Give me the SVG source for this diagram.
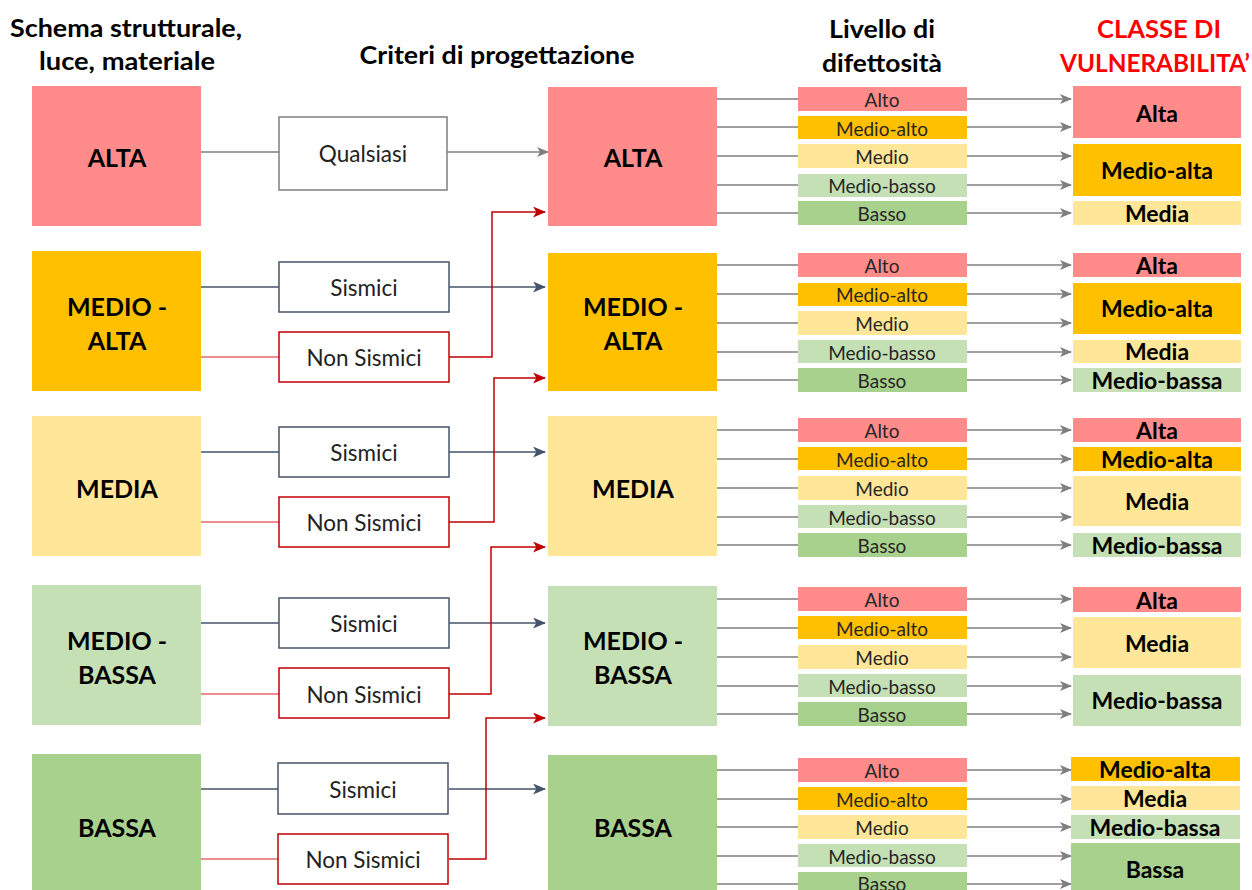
<svg xmlns="http://www.w3.org/2000/svg" width="1252" height="890" viewBox="0 0 1252 890">
<style>
text{font-family:Lato,"Liberation Sans",sans-serif;fill:#000;text-anchor:middle;dominant-baseline:central}
.h{font-size:24px;font-weight:bold}
.hr{font-size:24px;font-weight:bold;fill:#FF0000}
.big{font-size:25px;font-weight:bold}
.crit{font-size:22.5px;fill:#222}
.def{font-size:19px;fill:#262626}
.vul{font-size:23px;font-weight:bold}
.r{fill:#FF8B8B}.o{fill:#FFC000}.y{fill:#FFE699}.lg{fill:#C5E0B4}.g{fill:#A9D18E}
.cq{fill:#fff;stroke:#7F7F7F;stroke-width:1.5}
.cs{fill:#fff;stroke:#44546A;stroke-width:1.5}
.cn{fill:#fff;stroke:#C00000;stroke-width:1.5}
.lg1{fill:none;stroke:#7F7F7F;stroke-width:1.5}
.ls{fill:none;stroke:#44546A;stroke-width:1.5}
.ln{fill:none;stroke:#C00000;stroke-width:1.5}
.lnl{fill:none;stroke:#E86A6A;stroke-width:1.5}
</style>
<defs>
<marker id="ag" viewBox="0 0 12 10" refX="11" refY="5" markerWidth="12" markerHeight="10" markerUnits="userSpaceOnUse" orient="auto"><path d="M0,0 L12,5 L0,10 L3,5 z" fill="#7F7F7F"/></marker>
<marker id="as" viewBox="0 0 12 10" refX="11" refY="5" markerWidth="13" markerHeight="11" markerUnits="userSpaceOnUse" orient="auto"><path d="M0,0 L12,5 L0,10 L3,5 z" fill="#44546A"/></marker>
<marker id="an" viewBox="0 0 12 10" refX="11" refY="5" markerWidth="13" markerHeight="11" markerUnits="userSpaceOnUse" orient="auto"><path d="M0,0 L12,5 L0,10 L3,5 z" fill="#C00000"/></marker>
</defs>

<g id="headers">
<text class="h" x="126" y="27" textLength="232" lengthAdjust="spacingAndGlyphs">Schema strutturale,</text>
<text class="h" x="127" y="60" textLength="176" lengthAdjust="spacingAndGlyphs">luce, materiale</text>
<text class="h" x="497" y="54" textLength="275" lengthAdjust="spacingAndGlyphs">Criteri di progettazione</text>
<text class="h" x="882" y="28" textLength="106" lengthAdjust="spacingAndGlyphs">Livello di</text>
<text class="h" x="882" y="62" textLength="120" lengthAdjust="spacingAndGlyphs">difettosità</text>
<text class="hr" x="1159" y="28" textLength="124" lengthAdjust="spacingAndGlyphs">CLASSE DI</text>
<text class="hr" x="1155" y="62" textLength="190" lengthAdjust="spacingAndGlyphs">VULNERABILITA’</text>
</g>

<g id="connectors">
<path class="lg1" d="M201,152 H279"/>
<path class="lg1" d="M447,152 H548" marker-end="url(#ag)"/>
<path class="ls" d="M201,287 H279"/>
<path class="ls" d="M449,287 H545" marker-end="url(#as)"/>
<path class="lnl" d="M201,357 H279"/>
<path class="ln" d="M449,357 H492 V212 H545" marker-end="url(#an)"/>
<path class="ls" d="M201,452 H279"/>
<path class="ls" d="M449,452 H545" marker-end="url(#as)"/>
<path class="lnl" d="M201,522 H279"/>
<path class="ln" d="M449,522 H494 V378 H545" marker-end="url(#an)"/>
<path class="ls" d="M201,623 H279"/>
<path class="ls" d="M449,623 H545" marker-end="url(#as)"/>
<path class="lnl" d="M201,694 H279"/>
<path class="ln" d="M449,694 H491 V547 H545" marker-end="url(#an)"/>
<path class="ls" d="M201,789 H279"/>
<path class="ls" d="M449,789 H545" marker-end="url(#as)"/>
<path class="lnl" d="M201,859 H279"/>
<path class="ln" d="M449,859 H486 V718 H545" marker-end="url(#an)"/>
<path class="lg1" d="M717,99 H798 M717,127 H798 M717,156 H798 M717,185 H798 M717,213 H798"/>
<path class="lg1" d="M717,265 H798 M717,294 H798 M717,323 H798 M717,352 H798 M717,380 H798"/>
<path class="lg1" d="M717,430 H798 M717,459 H798 M717,488 H798 M717,517 H798 M717,545 H798"/>
<path class="lg1" d="M717,599 H798 M717,628 H798 M717,657 H798 M717,686 H798 M717,714 H798"/>
<path class="lg1" d="M717,770 H798 M717,799 H798 M717,827 H798 M717,856 H798 M717,884 H798"/>
<g marker-end="url(#ag)" class="lg1">
<path d="M967,99 H1071"/><path d="M967,127 H1071"/><path d="M967,156 H1071"/><path d="M967,185 H1071"/><path d="M967,213 H1071"/>
<path d="M967,265 H1071"/><path d="M967,294 H1071"/><path d="M967,323 H1071"/><path d="M967,352 H1071"/><path d="M967,380 H1071"/>
<path d="M967,430 H1071"/><path d="M967,459 H1071"/><path d="M967,488 H1071"/><path d="M967,517 H1071"/><path d="M967,545 H1071"/>
<path d="M967,599 H1071"/><path d="M967,628 H1071"/><path d="M967,657 H1071"/><path d="M967,686 H1071"/><path d="M967,714 H1071"/>
<path d="M967,770 H1071"/><path d="M967,799 H1071"/><path d="M967,827 H1071"/><path d="M967,856 H1071"/><path d="M967,884 H1071"/>
</g>
</g>

<g id="src-alta"><rect class="r" x="32" y="86" width="169" height="140"/><text class="big" x="117" y="157">ALTA</text></g>
<g id="src-medioalta"><rect class="o" x="32" y="251" width="169" height="140"/><text class="big" x="117" y="306">MEDIO -</text><text class="big" x="117" y="340">ALTA</text></g>
<g id="src-media"><rect class="y" x="32" y="416" width="169" height="140"/><text class="big" x="117" y="488">MEDIA</text></g>
<g id="src-mediobassa"><rect class="lg" x="32" y="585" width="169" height="140"/><text class="big" x="117" y="640">MEDIO -</text><text class="big" x="117" y="674">BASSA</text></g>
<g id="src-bassa"><rect class="g" x="32" y="754" width="169" height="140"/><text class="big" x="117" y="827">BASSA</text></g>

<g id="crit-qualsiasi"><rect class="cq" x="279" y="117" width="168" height="73"/><text class="crit" x="363" y="153">Qualsiasi</text></g>
<g id="crit-s2"><rect class="cs" x="279" y="262" width="170" height="50"/><text class="crit" x="364" y="287">Sismici</text></g>
<g id="crit-n2"><rect class="cn" x="279" y="332" width="170" height="50"/><text class="crit" x="364" y="357">Non Sismici</text></g>
<g id="crit-s3"><rect class="cs" x="279" y="427" width="170" height="50"/><text class="crit" x="364" y="452">Sismici</text></g>
<g id="crit-n3"><rect class="cn" x="279" y="497" width="170" height="50"/><text class="crit" x="364" y="522">Non Sismici</text></g>
<g id="crit-s4"><rect class="cs" x="279" y="598" width="170" height="50"/><text class="crit" x="364" y="623">Sismici</text></g>
<g id="crit-n4"><rect class="cn" x="279" y="668" width="170" height="50"/><text class="crit" x="364" y="694">Non Sismici</text></g>
<g id="crit-s5"><rect class="cs" x="278" y="763" width="170" height="51"/><text class="crit" x="363" y="789">Sismici</text></g>
<g id="crit-n5"><rect class="cn" x="278" y="834" width="170" height="50"/><text class="crit" x="363" y="859">Non Sismici</text></g>

<g id="lvl-alta"><rect class="r" x="548" y="87" width="169" height="139"/><text class="big" x="633" y="157">ALTA</text></g>
<g id="lvl-medioalta"><rect class="o" x="548" y="253" width="169" height="138"/><text class="big" x="633" y="306">MEDIO -</text><text class="big" x="633" y="340">ALTA</text></g>
<g id="lvl-media"><rect class="y" x="548" y="416" width="169" height="140"/><text class="big" x="633" y="488">MEDIA</text></g>
<g id="lvl-mediobassa"><rect class="lg" x="548" y="586" width="169" height="140"/><text class="big" x="633" y="640">MEDIO -</text><text class="big" x="633" y="674">BASSA</text></g>
<g id="lvl-bassa"><rect class="g" x="548" y="755" width="169" height="140"/><text class="big" x="633" y="827">BASSA</text></g>

<g id="def-1">
<rect class="r" x="798" y="87" width="169" height="24"/><text class="def" x="882" y="99">Alto</text>
<rect class="o" x="798" y="116" width="169" height="23"/><text class="def" x="882" y="128">Medio-alto</text>
<rect class="y" x="798" y="144" width="169" height="24"/><text class="def" x="882" y="156">Medio</text>
<rect class="lg" x="798" y="174" width="169" height="23"/><text class="def" x="882" y="185">Medio-basso</text>
<rect class="g" x="798" y="201" width="169" height="24"/><text class="def" x="882" y="213">Basso</text>
</g>
<g id="def-2">
<rect class="r" x="798" y="253" width="169" height="24"/><text class="def" x="882" y="265">Alto</text>
<rect class="o" x="798" y="283" width="169" height="23"/><text class="def" x="882" y="294">Medio-alto</text>
<rect class="y" x="798" y="311" width="169" height="24"/><text class="def" x="882" y="323">Medio</text>
<rect class="lg" x="798" y="340" width="169" height="23"/><text class="def" x="882" y="352">Medio-basso</text>
<rect class="g" x="798" y="368" width="169" height="24"/><text class="def" x="882" y="380">Basso</text>
</g>
<g id="def-3">
<rect class="r" x="798" y="418" width="169" height="24"/><text class="def" x="882" y="430">Alto</text>
<rect class="o" x="798" y="447" width="169" height="23"/><text class="def" x="882" y="459">Medio-alto</text>
<rect class="y" x="798" y="476" width="169" height="24"/><text class="def" x="882" y="488">Medio</text>
<rect class="lg" x="798" y="505" width="169" height="23"/><text class="def" x="882" y="517">Medio-basso</text>
<rect class="g" x="798" y="533" width="169" height="24"/><text class="def" x="882" y="545">Basso</text>
</g>
<g id="def-4">
<rect class="r" x="798" y="587" width="169" height="24"/><text class="def" x="882" y="599">Alto</text>
<rect class="o" x="798" y="616" width="169" height="23"/><text class="def" x="882" y="628">Medio-alto</text>
<rect class="y" x="798" y="645" width="169" height="24"/><text class="def" x="882" y="657">Medio</text>
<rect class="lg" x="798" y="674" width="169" height="23"/><text class="def" x="882" y="686">Medio-basso</text>
<rect class="g" x="798" y="702" width="169" height="24"/><text class="def" x="882" y="714">Basso</text>
</g>
<g id="def-5">
<rect class="r" x="798" y="758" width="169" height="24"/><text class="def" x="882" y="770">Alto</text>
<rect class="o" x="798" y="787" width="169" height="23"/><text class="def" x="882" y="799">Medio-alto</text>
<rect class="y" x="798" y="815" width="169" height="24"/><text class="def" x="882" y="827">Medio</text>
<rect class="lg" x="798" y="844" width="169" height="23"/><text class="def" x="882" y="856">Medio-basso</text>
<rect class="g" x="798" y="872" width="169" height="24"/><text class="def" x="882" y="883">Basso</text>
</g>

<g id="vul-1">
<rect class="r" x="1073" y="86" width="168" height="52"/><text class="vul" x="1157" y="113">Alta</text>
<rect class="o" x="1073" y="144" width="168" height="52"/><text class="vul" x="1157" y="170">Medio-alta</text>
<rect class="y" x="1073" y="201" width="168" height="24"/><text class="vul" x="1157" y="213">Media</text>
</g>
<g id="vul-2">
<rect class="r" x="1073" y="253" width="168" height="24"/><text class="vul" x="1157" y="265">Alta</text>
<rect class="o" x="1073" y="283" width="168" height="51"/><text class="vul" x="1157" y="308">Medio-alta</text>
<rect class="y" x="1073" y="340" width="168" height="23"/><text class="vul" x="1157" y="351">Media</text>
<rect class="lg" x="1073" y="368" width="168" height="24"/><text class="vul" x="1157" y="380">Medio-bassa</text>
</g>
<g id="vul-3">
<rect class="r" x="1073" y="418" width="168" height="24"/><text class="vul" x="1157" y="430">Alta</text>
<rect class="o" x="1073" y="447" width="168" height="24"/><text class="vul" x="1157" y="459">Medio-alta</text>
<rect class="y" x="1073" y="476" width="168" height="50"/><text class="vul" x="1157" y="501">Media</text>
<rect class="lg" x="1073" y="533" width="168" height="24"/><text class="vul" x="1157" y="545">Medio-bassa</text>
</g>
<g id="vul-4">
<rect class="r" x="1073" y="587" width="168" height="25"/><text class="vul" x="1157" y="600">Alta</text>
<rect class="y" x="1073" y="617" width="168" height="51"/><text class="vul" x="1157" y="643">Media</text>
<rect class="lg" x="1073" y="675" width="168" height="51"/><text class="vul" x="1157" y="700">Medio-bassa</text>
</g>
<g id="vul-5">
<rect class="o" x="1071" y="757" width="169" height="24"/><text class="vul" x="1155" y="769">Medio-alta</text>
<rect class="y" x="1071" y="786" width="169" height="24"/><text class="vul" x="1155" y="798">Media</text>
<rect class="lg" x="1071" y="815" width="169" height="24"/><text class="vul" x="1155" y="827">Medio-bassa</text>
<rect class="g" x="1071" y="843" width="169" height="50"/><text class="vul" x="1155" y="869">Bassa</text>
</g>
</svg>
